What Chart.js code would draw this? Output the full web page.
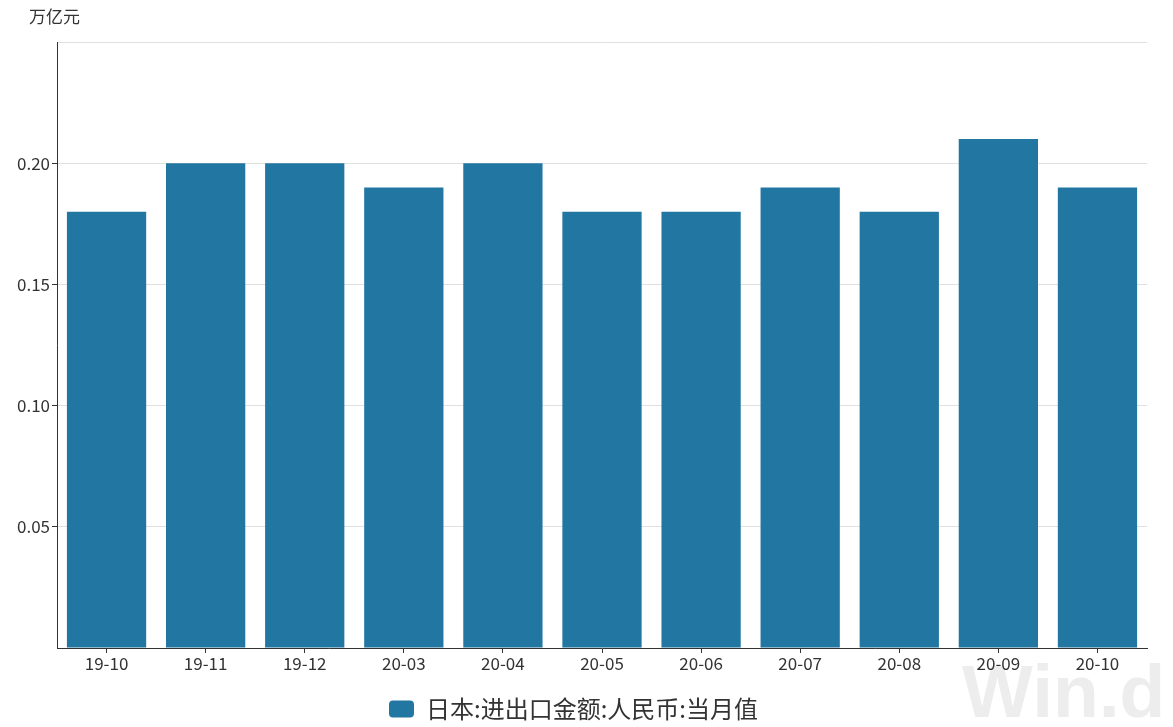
<!DOCTYPE html>
<html>
<head>
<meta charset="utf-8">
<script src="https://cdn.jsdelivr.net/npm/chart.js@4"></script>
<style>
  html, body { margin: 0; padding: 0; background: #fff; }
  #wrap { width: 1173px; height: 727px; }
</style>
</head>
<body>
<div id="wrap"><canvas id="barChart"></canvas></div>
<script>
const months = ["19-10", "19-11", "19-12", "20-03", "20-04", "20-05", "20-06", "20-07", "20-08", "20-09", "20-10"];
const tradeValues = [0.18, 0.20, 0.20, 0.19, 0.20, 0.18, 0.18, 0.19, 0.18, 0.21, 0.19];
const seriesName = "日本:进出口金额:人民币:当月值";
const unitLabel = "万亿元";

const fontFamily = "'Noto Sans CJK SC', 'Noto Sans', sans-serif";

// unit text on top left and the faint watermark
const extras = {
    id: "extras",
    beforeDraw(chart) {
        const ctx = chart.ctx;
        ctx.save();
        ctx.fillStyle = "#ededed";
        ctx.font = "bold 75px 'Liberation Sans', sans-serif";
        ctx.textBaseline = "alphabetic";
        ctx.fillText("Win.d", 962, 717);
        ctx.restore();
    },
    afterDraw(chart) {
        const ctx = chart.ctx;
        ctx.save();
        ctx.fillStyle = "#333";
        ctx.font = "17px " + fontFamily;
        ctx.textBaseline = "middle";
        ctx.fillText(unitLabel, 29, 17);
        ctx.restore();
    }
};

const innerTick = c => (c.tick && c.tick.value > 0.001 && c.tick.value < 0.249) ? "#333" : "rgba(0,0,0,0)";

new Chart(document.getElementById("barChart"), {
    type: "bar",
    data: {
        labels: months,
        datasets: [{
            label: seriesName,
            data: tradeValues,
            backgroundColor: "#2277a2",
            barPercentage: 0.8,
            categoryPercentage: 1.0
        }]
    },
    options: {
        responsive: true,
        maintainAspectRatio: false,
        animation: false,
        layout: { padding: { top: 42, right: 26, left: 0, bottom: -4 } },
        plugins: {
            legend: {
                position: "bottom",
                labels: {
                    color: "#333",
                    font: { size: 24, family: fontFamily },
                    boxWidth: 25,
                    boxHeight: 17,
                    useBorderRadius: true,
                    borderRadius: 4,
                    padding: 0
                }
            },
            tooltip: { enabled: false }
        },
        scales: {
            x: {
                offset: true,
                afterFit(scale) { scale.height = 49; },
                grid: {
                    offset: false,
                    drawOnChartArea: false,
                    tickColor: "#333",
                    tickLength: 5
                },
                border: { color: "#333", width: 1 },
                ticks: { color: "#333", font: { size: 17, family: fontFamily }, padding: 0 }
            },
            y: {
                min: 0,
                max: 0.25,
                afterFit(scale) { scale.width = 57; },
                grid: { color: "#e0e0e0", tickColor: innerTick, tickLength: 5 },
                border: { color: "#333", width: 1 },
                ticks: {
                    stepSize: 0.05,
                    color: "#333",
                    font: { size: 17, family: fontFamily },
                    padding: 2,
                    callback: v => (v > 0.001 && v < 0.249) ? v.toFixed(2) : ""
                }
            }
        }
    },
    plugins: [extras]
});
</script>
</body>
</html>
